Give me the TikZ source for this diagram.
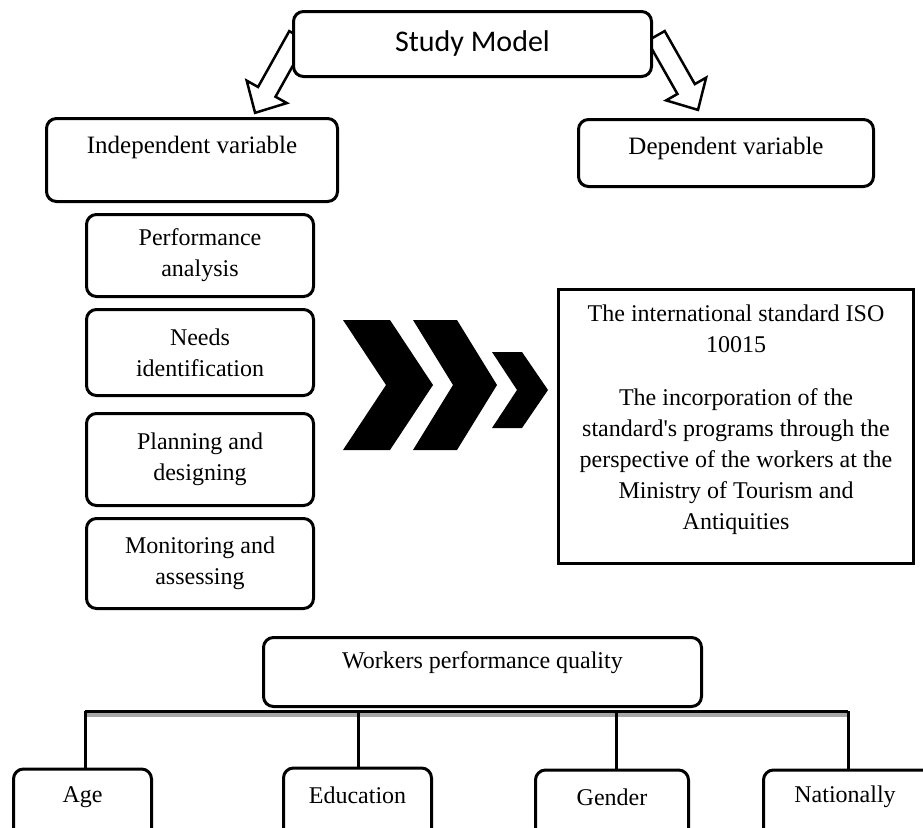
\documentclass[tikz,border=0pt]{standalone}
\usepackage{fontspec}
\setmainfont{Liberation Serif}
\newfontfamily\calibri{Carlito}
\begin{document}
\begin{tikzpicture}[x=1pt,y=-1pt,
  rbox/.style={draw=black, line width=3pt, rounded corners=10pt, fill=white, inner sep=0pt},
  sbox/.style={draw=black, line width=3pt, fill=white, inner sep=0pt},
  txt/.style={font=\fontsize{24}{31}\selectfont, align=center, inner sep=0pt},
  bigtxt/.style={font=\fontsize{25}{31}\selectfont, align=center, inner sep=0pt},
  hollow/.style={draw=black, line width=2.5pt, fill=white, line join=miter},
  chev/.style={fill=black, draw=none},
  conn/.style={draw=black, line width=3pt}]
\useasboundingbox (0,0) rectangle (923,827);
\clip (0,0) rectangle (923,827);
\fill[white] (0,0) rectangle (923,827);

% hollow arrows
\coordinate (tailL) at (298,36);
\coordinate (tailR) at (656,36);
\draw[hollow, shift={(tailL)}, rotate=-119.2]
  (0,-10) -- (64,-10) -- (64,-23) -- (88,0) -- (64,23) -- (64,10) -- (0,10) -- cycle;
\draw[hollow, shift={(tailR)}, rotate=-60.4]
  (0,-10) -- (61,-10) -- (61,-23) -- (85,0) -- (61,23) -- (61,10) -- (0,10) -- cycle;

% Study model
\node[rbox, minimum width=358pt, minimum height=65pt, font=\calibri\fontsize{30}{36}\selectfont]
  (study) at (472.5,44) {Study Model};

% variable headers
\node[rbox, minimum width=291pt, minimum height=83pt] (indep) at (192,160) {};
\node[bigtxt] (indeptxt) at (192,147) {Independent variable};
\node[rbox, minimum width=295pt, minimum height=67pt] (dep) at (726,153) {};
\node[bigtxt] (deptxt) at (726,148) {Dependent variable};

% left column
\node[rbox, txt, minimum width=227pt, minimum height=82pt] (perf) at (200,255.5) {Performance\\analysis};
\node[rbox, txt, minimum width=227pt, minimum height=86pt] (needs) at (200,352.5) {Needs\\identification};
\node[rbox, txt, minimum width=227pt, minimum height=92pt] (plan) at (200,459.5) {Planning and\\designing};
\node[rbox, txt, minimum width=227pt, minimum height=90pt] (mon) at (200,563.5) {Monitoring and\\assessing};

% chevrons
\fill[chev] (343,320) -- (390,320) -- (433,385) -- (390,450) -- (343,450) -- (386,385) -- cycle;
\fill[chev] (413,320) -- (457,320) -- (497,385) -- (457,450) -- (413,450) -- (453,385) -- cycle;
\fill[chev] (492,352) -- (522,352) -- (548,390) -- (522,428) -- (492,428) -- (517,390) -- cycle;

% right box
\node[sbox, minimum width=355pt, minimum height=274pt] (iso) at (736,426.5) {};
\node[txt] (isotxt) at (736,329) {The international standard ISO\\10015};
\node[txt] (isotxt2) at (736,462) {The incorporation of the\\standard\textquotesingle s programs through the\\perspective of the workers at the\\Ministry of Tourism and\\Antiquities};

% workers
\node[rbox, minimum width=438pt, minimum height=69pt] (work) at (482.5,672) {};
\node[txt] (worktxt) at (482.5,663) {Workers performance quality};

% bar
\coordinate (bA) at (85,711);
\coordinate (bE) at (358,711);
\coordinate (bG) at (616,711);
\coordinate (bN) at (848,711);
\fill[black!35] (87,712) rectangle (848,717);
\draw[conn] (bA) -- (bN);

% bottom boxes
\node[rbox, minimum width=138pt, minimum height=100pt] (age) at (82.5,819) {};
\node[rbox, minimum width=148pt, minimum height=100pt] (edu) at (357.5,818) {};
\node[rbox, minimum width=153pt, minimum height=100pt] (gen) at (612,820) {};
\node[rbox, minimum width=175pt, minimum height=100pt] (nat) at (851,820) {};
\node[txt] (agetxt) at (82.5,797) {Age};
\node[txt] (edutxt) at (357.5,795) {Education};
\node[txt] (gentxt) at (612,797) {Gender};
\node[txt] (nattxt) at (845,797) {Nationally};

\draw[conn] (bA) -- (bA |- age.north);
\draw[conn] (bE) -- (bE |- edu.north);
\draw[conn] (bG) -- (bG |- gen.north);
\draw[conn] (bN) -- (bN |- nat.north);
\end{tikzpicture}
\end{document}
